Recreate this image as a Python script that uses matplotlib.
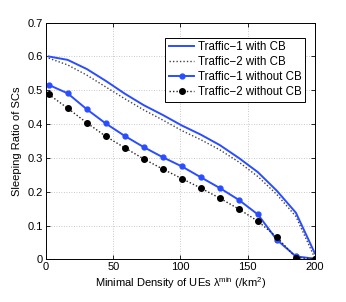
import matplotlib
matplotlib.use("Agg")
import matplotlib.pyplot as plt

x = [2, 16.1, 30.3, 44.4, 58.6, 72.7, 86.9, 101, 115.1, 129.3, 143.4, 157.6, 171.7, 185.9, 200]
t1_cb = [0.600, 0.590, 0.563, 0.528, 0.490, 0.456, 0.427, 0.396, 0.369, 0.338, 0.300, 0.258, 0.203, 0.138, 0.018]
t2_cb = [0.595, 0.575, 0.545, 0.510, 0.475, 0.442, 0.412, 0.381, 0.354, 0.324, 0.288, 0.245, 0.192, 0.127, 0.004]
t1_nocb = [0.516, 0.491, 0.444, 0.402, 0.365, 0.332, 0.302, 0.275, 0.243, 0.211, 0.176, 0.133, 0.058, 0.009, 0.002]
t2_nocb = [0.488, 0.447, 0.404, 0.364, 0.330, 0.297, 0.267, 0.239, 0.211, 0.181, 0.149, 0.113, 0.066, 0.005, 0.002]

xticks = [0, 50, 100, 150, 200]
yticks = [0, 0.1, 0.2, 0.3, 0.4, 0.5, 0.6, 0.7]

blue = "#2a4dff"
plt.rcParams['font.family'] = ['Liberation Sans', 'DejaVu Sans']
plt.rcParams['mathtext.fontset'] = 'custom'
plt.rcParams['mathtext.rm'] = 'Liberation Sans'
plt.rcParams['mathtext.it'] = 'Liberation Sans:italic'

fig = plt.figure(figsize=(3.46, 3.02), dpi=100)
ax = fig.add_axes([0.133, 0.141, 0.777, 0.784])

ax.plot(x, t1_cb, color=blue, lw=1.4, label="Traffic\u22121 with CB")
ax.plot(x, t2_cb, color="#444444", lw=1.0, ls=(0, (1, 1.5)), label="Traffic\u22122 with CB")
ax.plot(x, t1_nocb, color=blue, lw=1.4, marker='o', ms=3.5, label="Traffic\u22121 without CB")
ax.plot(x, t2_nocb, color="#222222", lw=1.0, ls=(0, (1, 1.5)), marker='o', ms=4,
        mfc='black', mec='black', label="Traffic\u22122 without CB")

ax.set_xlim(0, 200)
ax.set_ylim(0, 0.7)
ax.set_xticks(xticks)
ax.set_yticks(yticks)
ax.set_yticklabels([f"{v:g}" for v in yticks])
ax.tick_params(direction='in', top=True, right=True, labelsize=8, length=3, width=0.6, pad=2)
ax.grid(True, ls=(0, (1, 2)), color="#b8b8b8", lw=0.6)
for s in ax.spines.values():
    s.set_linewidth(0.7)

ax.set_xlabel("Minimal Density of UEs \u03bb$^{\\rm min}$ (/km$^{\\rm 2}$)", fontsize=8, labelpad=2)
ax.set_ylabel("Sleeping Ratio of SCs", fontsize=8, labelpad=4)

leg = ax.legend(loc='upper right', bbox_to_anchor=(0.963, 0.935), fontsize=8.3,
                fancybox=False, edgecolor='black', framealpha=1,
                handlelength=2.2, handletextpad=0.3, borderpad=0.3, labelspacing=0.25,
                borderaxespad=0)
leg.get_frame().set_linewidth(0.7)

fig.savefig("out.png", dpi=100)
